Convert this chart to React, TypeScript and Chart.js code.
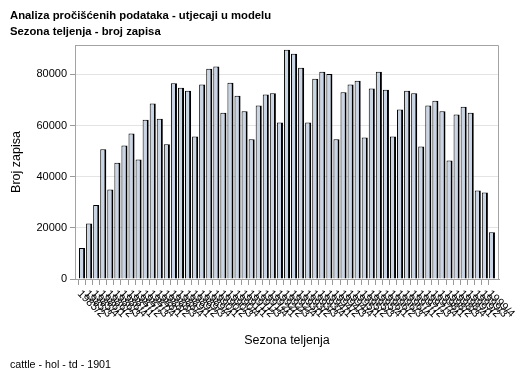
import React, { useEffect, useRef } from "react";
import { Chart, registerables } from "chart.js";

Chart.register(...registerables);

const titleLines = [
  "Analiza pročišćenih podataka - utjecaji u modelu",
  "Sezona teljenja - broj zapisa",
];
const footnote = "cattle - hol - td - 1901";
const xTitle = "Sezona teljenja";
const yTitle = "Broj zapisa";

const seasonLabels = [
  "1985/2", "1985/3", "1985/4",
  "1986/1", "1986/2", "1986/3", "1986/4",
  "1987/1", "1987/2", "1987/3", "1987/4",
  "1988/1", "1988/2", "1988/3", "1988/4",
  "1989/1", "1989/2", "1989/3", "1989/4",
  "1990/1", "1990/2", "1990/3", "1990/4",
  "1991/1", "1991/2", "1991/3", "1991/4",
  "1992/1", "1992/2", "1992/3", "1992/4",
  "1993/1", "1993/2", "1993/3", "1993/4",
  "1994/1", "1994/2", "1994/3", "1994/4",
  "1995/1", "1995/2", "1995/3", "1995/4",
  "1996/1", "1996/2", "1996/3", "1996/4",
  "1997/1", "1997/2", "1997/3", "1997/4",
  "1998/1", "1998/2", "1998/3", "1998/4",
  "1999/1", "1999/2", "1999/3", "1999/4",
];

const recordCounts = [
  12100, 21700, 28900,
  50700, 35000, 45500, 52200,
  56900, 46700, 62300, 68600,
  62700, 52700, 76500, 74800,
  73600, 55700, 76100, 82200,
  83100, 65000, 76700, 71700,
  65600, 54600, 67800, 72100,
  72600, 61200, 89600, 88100,
  82600, 61200, 78300, 81000,
  80200, 54600, 73000, 76100,
  77500, 55300, 74500, 81000,
  74000, 55700, 66300, 73600,
  72600, 51800, 67800, 69700,
  65600, 46300, 64300, 67400,
  65000, 34600, 33800, 18300,
];

const yTickValues = [0, 20000, 40000, 60000, 80000];
const yMax = 91500;

const FONT = '"Liberation Sans", Arial, sans-serif';

export default function App() {
  const canvasRef = useRef<HTMLCanvasElement | null>(null);

  useEffect(() => {
    const canvas = canvasRef.current;
    if (!canvas) return;

    // one empty slot at each end, like the original axis offset
    const paddedLabels = ["", ...seasonLabels, ""];
    const paddedData: (number | null)[] = [null, ...recordCounts, null];
    const lastIndex = paddedLabels.length - 1;

    const decorPlugin = {
      id: "decor",
      afterDraw(chart: any) {
        const ctx = chart.ctx;
        const area = chart.chartArea;
        const xs = chart.scales.x;
        ctx.save();
        // frame (top and right)
        ctx.strokeStyle = "#a3a3a3";
        ctx.lineWidth = 1;
        ctx.beginPath();
        ctx.moveTo(area.left, Math.round(area.top) + 0.5);
        ctx.lineTo(Math.round(area.right) - 0.5, Math.round(area.top) + 0.5);
        ctx.lineTo(Math.round(area.right) - 0.5, area.bottom);
        ctx.stroke();

        // titles
        ctx.fillStyle = "#000";
        ctx.textAlign = "left";
        ctx.textBaseline = "alphabetic";
        ctx.font = `bold 11.3px ${FONT}`;
        ctx.fillText(titleLines[0], 10, 19);
        ctx.fillText(titleLines[1], 10, 35);
        ctx.font = `10.7px ${FONT}`;
        ctx.fillText(footnote, 10, 368);

        // rotated category labels
        ctx.font = `11px ${FONT}`;
        ctx.textBaseline = "middle";
        for (let i = 1; i < lastIndex; i++) {
          const x = xs.getPixelForTick(i);
          const y = xs.top + 13;
          ctx.save();
          ctx.translate(x - 3, y);
          ctx.rotate(Math.PI / 4);
          ctx.fillText(paddedLabels[i], 0, 0);
          ctx.restore();
        }
        ctx.restore();
      },
    };

    const chart = new Chart(canvas, {
      type: "bar",
      data: {
        labels: paddedLabels,
        datasets: [
          {
            data: paddedData,
            backgroundColor: "#c9d4e4",
            borderColor: "#000000",
            borderWidth: { top: 1, left: 1, right: 2, bottom: 0 } as any,
            barPercentage: 0.86,
            categoryPercentage: 1,
          },
        ],
      },
      options: {
        responsive: false,
        animation: false,
        layout: { padding: { left: 0, right: 30, top: 45, bottom: 25 } },
        plugins: {
          legend: { display: false },
          tooltip: { enabled: false },
          title: { display: false },
        },
        scales: {
          x: {
            type: "category",
            offset: false,
            grid: {
              drawOnChartArea: false,
              drawTicks: true,
              tickLength: 6,
              tickColor: (c: any) =>
                c.index === 0 || c.index === lastIndex ? "rgba(0,0,0,0)" : "#9a9a9a",
            },
            border: { display: true, color: "#a3a3a3" },
            ticks: { display: false },
            title: {
              display: true,
              text: xTitle,
              color: "#000",
              font: { family: FONT, size: 12.5 },
              padding: { top: 0, bottom: 5 },
            },
            afterFit: (scale: any) => {
              scale.height = 74;
            },
          },
          y: {
            min: 0,
            max: yMax,
            afterBuildTicks: (scale: any) => {
              scale.ticks = yTickValues.map((v) => ({ value: v }));
            },
            grid: {
              color: "#e4e4e4",
              tickColor: "#9a9a9a",
              tickLength: 5,
            },
            border: { display: true, color: "#a3a3a3" },
            ticks: {
              color: "#000",
              padding: 3,
              font: { family: FONT, size: 11 },
              callback: (v: any) => String(v),
            },
            title: {
              display: true,
              text: yTitle,
              color: "#000",
              font: { family: FONT, size: 12.5 },
              padding: { top: 9.5, bottom: 0 },
            },
            afterFit: (scale: any) => {
              scale.width = 75;
            },
          },
        },
      },
      plugins: [decorPlugin],
    });

    return () => chart.destroy();
  }, []);

  return (
    <div style={{ position: "absolute", left: 0, top: 0, width: 529, height: 378, background: "#fff" }}>
      <canvas ref={canvasRef} width={529} height={378} style={{ display: "block" }} />
    </div>
  );
}
